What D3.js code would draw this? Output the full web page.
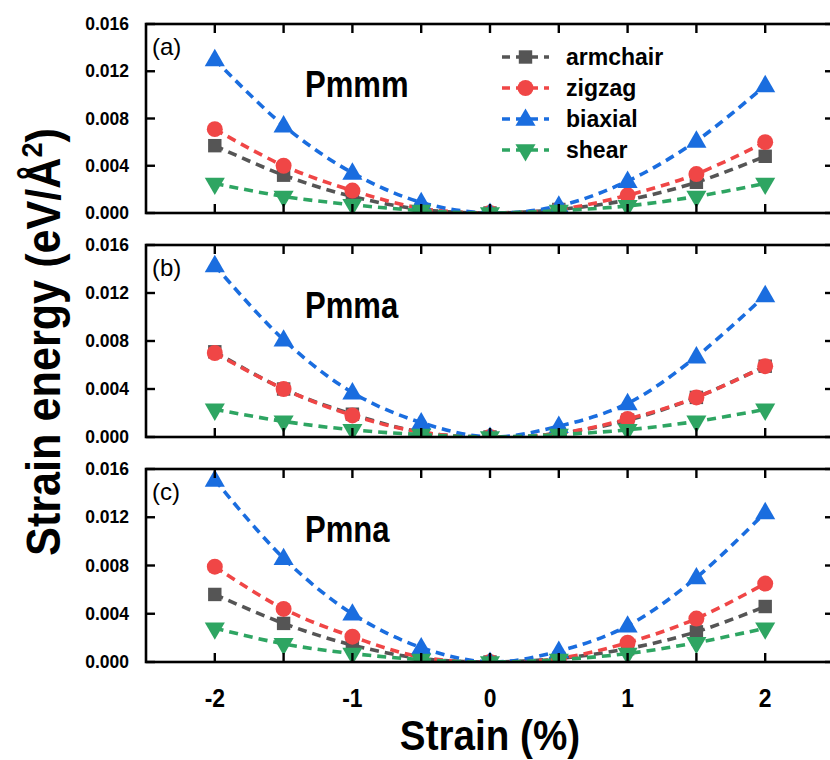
<!DOCTYPE html>
<html>
<head>
<meta charset="utf-8">
<script src="https://cdn.jsdelivr.net/npm/d3@7"></script>
<style>
  body { margin: 0; background: #fff; }
  text { font-family: "Liberation Sans", Arial, sans-serif; }
  .narrow { font-weight: bold; }
</style>
</head>
<body>
<svg id="chart"></svg>
<script>
var strain = [-2, -1.5, -1, -0.5, 0, 0.5, 1, 1.5, 2];
var xTicks = [-2, -1, 0, 1, 2];
var xMinor = [-2, -1.5, -1, -0.5, 0, 0.5, 1, 1.5, 2];
var yTicks = [0.000, 0.004, 0.008, 0.012, 0.016];

var seriesNames = ["armchair", "zigzag", "biaxial", "shear"];
var seriesColors = ["#555555", "#f04646", "#1a6ddf", "#2ea562"];
var seriesSymbols = ["square", "circle", "up", "down"];

var panelNames = ["Pmmm", "Pmma", "Pmna"];
var panelTags = ["(a)", "(b)", "(c)"];

// Pmmm
var pmmmArmchair = [0.0057, 0.0032, 0.0014, 0.0003, 0.0, 0.0003, 0.0011, 0.0026, 0.0048];
var pmmmZigzag   = [0.0071, 0.0040, 0.0019, 0.0004, 0.0, 0.0003, 0.0015, 0.0033, 0.0060];
var pmmmBiaxial  = [0.0130, 0.0074, 0.0034, 0.0009, 0.0, 0.0006, 0.0027, 0.0061, 0.0108];
var pmmmShear    = [0.0025, 0.0014, 0.0007, 0.0002, 0.0, 0.0002, 0.0006, 0.0014, 0.0025];
// Pmma
var pmmaArmchair = [0.0071, 0.0040, 0.0019, 0.0004, 0.0, 0.0003, 0.0014, 0.0033, 0.0059];
var pmmaZigzag   = [0.0070, 0.0040, 0.0018, 0.0004, 0.0, 0.0003, 0.0015, 0.0033, 0.0059];
var pmmaBiaxial  = [0.0143, 0.0081, 0.0037, 0.0012, 0.0, 0.0009, 0.0028, 0.0067, 0.0118];
var pmmaShear    = [0.0023, 0.0013, 0.0006, 0.0002, 0.0, 0.0002, 0.0006, 0.0013, 0.0023];
// Pmna
var pmnaArmchair = [0.0056, 0.0032, 0.0014, 0.0003, 0.0, 0.0003, 0.0011, 0.0025, 0.0046];
var pmnaZigzag   = [0.0079, 0.0044, 0.0021, 0.0004, 0.0, 0.0003, 0.0016, 0.0036, 0.0065];
var pmnaBiaxial  = [0.0151, 0.0086, 0.0040, 0.0012, 0.0, 0.0009, 0.0030, 0.0070, 0.0124];
var pmnaShear    = [0.0028, 0.0015, 0.0007, 0.0002, 0.0, 0.0002, 0.0007, 0.0016, 0.0028];

var panels = [
  [pmmmArmchair, pmmmZigzag, pmmmBiaxial, pmmmShear],
  [pmmaArmchair, pmmaZigzag, pmmaBiaxial, pmmaShear],
  [pmnaArmchair, pmnaZigzag, pmnaBiaxial, pmnaShear]
];

var width = 830, height = 760;
var left = 146, right = 834;
var panelTops = [24, 245, 469];
var panelBottoms = [213, 437, 662];
var tickLen = 9;

var svg = d3.select("#chart").attr("width", width).attr("height", height);

var x = d3.scaleLinear().domain([-2.5, 2.5]).range([left, right]);

function symbolPath(kind) {
  var types = { square: d3.symbolSquare, circle: d3.symbolCircle, up: d3.symbolTriangle, down: d3.symbolTriangle };
  var sizes = { square: 180, circle: 200, up: 175, down: 175 };
  return d3.symbol().type(types[kind]).size(sizes[kind])();
}

function addMarker(g, kind, color, cx, cy) {
  g.append("path")
    .attr("d", symbolPath(kind))
    .attr("fill", color)
    .attr("transform", "translate(" + cx + "," + cy + ")" + (kind == "down" ? " rotate(180)" : "") + (kind == "up" ? " translate(0,1)" : ""));
}

// condensed bold text, squeezed along its own baseline
function narrowText(g, tx, ty, size, squeeze, txt, anchor) {
  return g.append("text")
    .attr("class", "narrow")
    .attr("transform", "translate(" + tx + "," + ty + ") scale(" + squeeze + ",1)")
    .attr("text-anchor", anchor || "start")
    .attr("font-size", size)
    .text(txt);
}

panels.forEach(function(series, p) {
  var top = panelTops[p], bottom = panelBottoms[p];
  var y = d3.scaleLinear().domain([0, 0.016]).range([bottom, top]);
  var g = svg.append("g");

  var clipId = "clip" + p;
  svg.append("clipPath").attr("id", clipId)
    .append("rect").attr("x", left).attr("y", top - 20).attr("width", right - left).attr("height", bottom - top + 20);

  var plot = g.append("g").attr("clip-path", "url(#" + clipId + ")");

  var line = d3.line()
    .x(function(d, i) { return x(strain[i]); })
    .y(function(d) { return y(d); })
    .curve(d3.curveCatmullRom.alpha(0.5));

  series.forEach(function(vals, s) {
    plot.append("path")
      .datum(vals)
      .attr("d", line)
      .attr("fill", "none")
      .attr("stroke", seriesColors[s])
      .attr("stroke-width", 3.6)
      .attr("stroke-dasharray", "9,6");
    vals.forEach(function(v, i) {
      addMarker(plot, seriesSymbols[s], seriesColors[s], x(strain[i]), y(v));
    });
  });

  // frame
  g.append("rect")
    .attr("x", left).attr("y", top)
    .attr("width", right - left).attr("height", bottom - top)
    .attr("fill", "none").attr("stroke", "#000").attr("stroke-width", 2.6);

  // ticks, pointing inwards
  xMinor.forEach(function(t) {
    g.append("line").attr("x1", x(t)).attr("x2", x(t))
      .attr("y1", bottom).attr("y2", bottom - tickLen)
      .attr("stroke", "#000").attr("stroke-width", 2.4);
    g.append("line").attr("x1", x(t)).attr("x2", x(t))
      .attr("y1", top).attr("y2", top + tickLen)
      .attr("stroke", "#000").attr("stroke-width", 2.4);
  });
  yTicks.forEach(function(t) {
    g.append("line").attr("x1", left).attr("x2", left + tickLen)
      .attr("y1", y(t)).attr("y2", y(t))
      .attr("stroke", "#000").attr("stroke-width", 2.4);
    g.append("line").attr("x1", right).attr("x2", right - tickLen)
      .attr("y1", y(t)).attr("y2", y(t))
      .attr("stroke", "#000").attr("stroke-width", 2.4);
    g.append("text")
      .attr("x", 129).attr("y", y(t) + 6)
      .attr("text-anchor", "end")
      .attr("font-size", 17.5).attr("font-weight", "bold")
      .text(d3.format(".3f")(t));
  });

  g.append("text")
    .attr("x", 152).attr("y", top + 31)
    .attr("font-size", 24)
    .text(panelTags[p]);

  narrowText(g, 305, top + 73, 37, 0.84, panelNames[p]);

  if (p == 2) {
    xTicks.forEach(function(t) {
      narrowText(g, x(t), bottom + 45, 26, 0.88, t, "middle");
    });
  }
});

// legend
var legend = svg.append("g");
seriesNames.forEach(function(name, s) {
  var ly = 57 + s * 31;
  legend.append("line")
    .attr("x1", 502).attr("x2", 549).attr("y1", ly).attr("y2", ly)
    .attr("stroke", seriesColors[s]).attr("stroke-width", 3.6)
    .attr("stroke-dasharray", "8,6");
  addMarker(legend, seriesSymbols[s], seriesColors[s], 525.5, ly);
  legend.append("text")
    .attr("x", 566).attr("y", ly + 8)
    .attr("font-size", 23).attr("font-weight", "bold")
    .text(name);
});

// axis titles
narrowText(svg, 490, 750, 42, 0.92, "Strain (%)", "middle");

var ylab = svg.append("text")
  .attr("class", "narrow")
  .attr("transform", "translate(60,342) rotate(-90) scale(0.9,1)")
  .attr("text-anchor", "middle")
  .attr("font-size", 48);
ylab.append("tspan").text("Strain energy (eV/Å");
ylab.append("tspan").attr("font-size", 30).attr("dy", -18).text("2");
ylab.append("tspan").attr("dy", 18).text(")");
</script>
</body>
</html>
